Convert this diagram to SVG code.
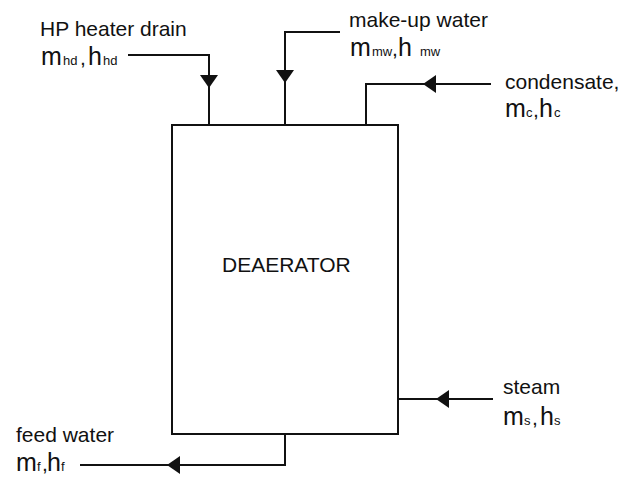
<svg xmlns="http://www.w3.org/2000/svg" width="623" height="477" viewBox="0 0 623 477">
<style>
.ln{fill:none;stroke:#111;stroke-width:2}
.t{font-family:"Liberation Sans",Arial,sans-serif;font-size:21px;fill:#111}
.b{font-size:25px}
.s{font-size:13px}
</style>
<defs>
<marker id="ar" markerUnits="userSpaceOnUse" markerWidth="14" markerHeight="20" viewBox="0 -10 14 20" refX="13" refY="0" orient="auto">
<path d="M0,-9 L13,0 L0,9 z" fill="#111"/>
</marker>
</defs>
<rect width="623" height="477" fill="#fff"/>
<g id="deaerator">
<rect x="172" y="125" width="226" height="309" class="ln"/>
<text class="t" x="222" y="272" font-size="22">DEAERATOR</text>
</g>
<g id="hp-drain">
<text class="t" x="40" y="36">HP heater drain</text>
<text class="t" y="65"><tspan class="b" x="41">m</tspan><tspan class="s" x="63">hd</tspan><tspan x="80">,</tspan><tspan class="b" x="88">h</tspan><tspan class="s" x="103">hd</tspan></text>
</g>
<g id="makeup">
<text class="t" x="349" y="27">make-up water</text>
<text class="t" y="56"><tspan class="b" x="350">m</tspan><tspan class="s" x="372">mw</tspan><tspan x="392">,</tspan><tspan class="b" x="398">h</tspan><tspan class="s" x="420">mw</tspan></text>
</g>
<g id="condensate">
<text class="t" x="505" y="89">condensate,</text>
<text class="t" y="117"><tspan class="b" x="505">m</tspan><tspan class="s" x="526">c</tspan><tspan x="533">,</tspan><tspan class="b" x="539">h</tspan><tspan class="s" x="554">c</tspan></text>
</g>
<g id="steam">
<text class="t" x="503" y="394">steam</text>
<text class="t" y="425"><tspan class="b" x="503">m</tspan><tspan class="s" x="524">s</tspan><tspan x="532">,</tspan><tspan class="b" x="540">h</tspan><tspan class="s" x="554">s</tspan></text>
</g>
<g id="feedwater">
<text class="t" x="16" y="442">feed water</text>
<text class="t" y="471"><tspan class="b" x="16">m</tspan><tspan class="s" x="37">f</tspan><tspan x="42">,</tspan><tspan class="b" x="47">h</tspan><tspan class="s" x="61">f</tspan></text>
</g>
<g id="connectors">
<path class="ln" d="M128,55 H209 V88" marker-end="url(#ar)"/>
<path class="ln" d="M209,87 V125"/>
<path class="ln" d="M340,32 H285 V83" marker-end="url(#ar)"/>
<path class="ln" d="M285,82 V125"/>
<path class="ln" d="M491,84 H423" marker-end="url(#ar)"/>
<path class="ln" d="M424,84 H366 V125"/>
<path class="ln" d="M493,399 H436" marker-end="url(#ar)"/>
<path class="ln" d="M437,399 H398"/>
<path class="ln" d="M285,434 V465 H167" marker-end="url(#ar)"/>
<path class="ln" d="M168,465 H80"/>
</g>
</svg>
